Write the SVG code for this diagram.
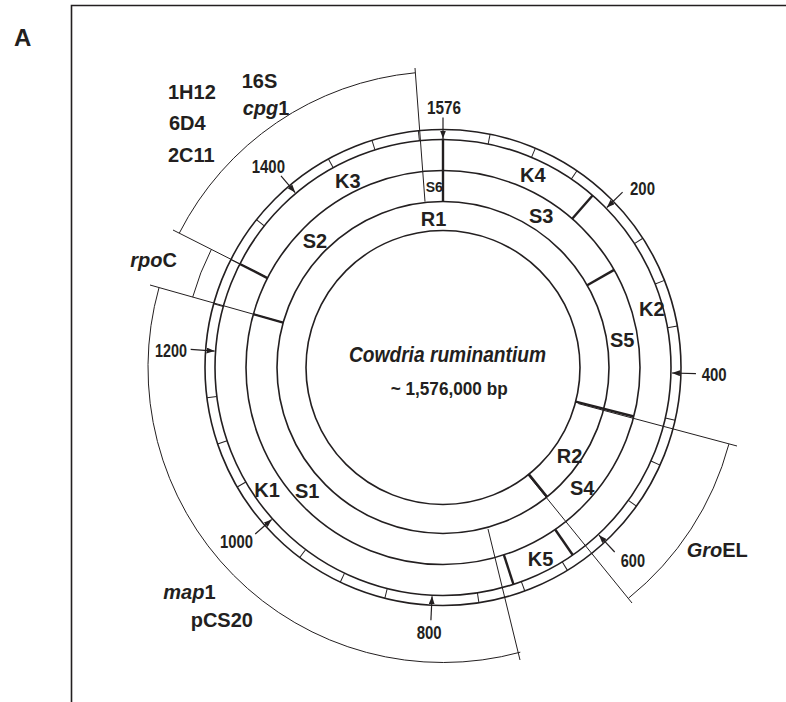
<svg xmlns="http://www.w3.org/2000/svg" width="786" height="702" viewBox="0 0 786 702">
<style>
text{font-family:"Liberation Sans",Arial,sans-serif;font-weight:bold;fill:#231f20}
.lbl{font-size:20px}
.num{font-size:18px}
.it{font-style:italic}
.ring{fill:none;stroke:#231f20;stroke-width:1.6}
.tick{stroke:#231f20;stroke-width:1}
.thin{stroke:#231f20;stroke-width:1;fill:none}
.thick{stroke:#231f20;stroke-width:2.4}
.lead{stroke:#231f20;stroke-width:1.2}
</style>
<defs>
<marker id="ah" markerUnits="userSpaceOnUse" markerWidth="8" markerHeight="6" refX="8" refY="3" orient="auto">
<path d="M0,0 L8,3 L0,6 z" fill="#231f20"/>
</marker>
</defs>
<rect width="786" height="702" fill="#fff"/>
<g id="frame"><path d="M71.5,702 V5.5 H786" fill="none" stroke="#231f20" stroke-width="1.6"/></g>
<text x="14" y="46" style="font-size:24px">A</text>

<g id="map" transform="translate(443 367.5)">
<g id="rings">
<circle class="ring" r="238"/>
<circle class="ring" r="228"/>
<circle class="ring" r="197"/>
<circle class="ring" r="166"/>
<circle class="ring" r="137"/>
</g>
<g id="ticks">
<line class="tick" y1="-228" y2="-238" transform="rotate(11.42)"/>
<line class="tick" y1="-228" y2="-238" transform="rotate(22.84)"/>
<line class="tick" y1="-228" y2="-238" transform="rotate(34.26)"/>
<line class="tick" y1="-228" y2="-238" transform="rotate(57.11)"/>
<line class="tick" y1="-228" y2="-238" transform="rotate(68.53)"/>
<line class="tick" y1="-228" y2="-238" transform="rotate(79.95)"/>
<line class="tick" y1="-228" y2="-238" transform="rotate(102.79)"/>
<line class="tick" y1="-228" y2="-238" transform="rotate(114.21)"/>
<line class="tick" y1="-228" y2="-238" transform="rotate(125.63)"/>
<line class="tick" y1="-228" y2="-238" transform="rotate(148.48)"/>
<line class="tick" y1="-228" y2="-238" transform="rotate(159.90)"/>
<line class="tick" y1="-228" y2="-238" transform="rotate(171.32)"/>
<line class="tick" y1="-228" y2="-238" transform="rotate(194.16)"/>
<line class="tick" y1="-228" y2="-238" transform="rotate(205.58)"/>
<line class="tick" y1="-228" y2="-238" transform="rotate(217.01)"/>
<line class="tick" y1="-228" y2="-238" transform="rotate(239.85)"/>
<line class="tick" y1="-228" y2="-238" transform="rotate(251.27)"/>
<line class="tick" y1="-228" y2="-238" transform="rotate(262.69)"/>
<line class="tick" y1="-228" y2="-238" transform="rotate(285.53)"/>
<line class="tick" y1="-228" y2="-238" transform="rotate(296.95)"/>
<line class="tick" y1="-228" y2="-238" transform="rotate(308.38)"/>
<line class="tick" y1="-228" y2="-238" transform="rotate(331.22)"/>
<line class="tick" y1="-228" y2="-238" transform="rotate(342.64)"/>
<line class="tick" y1="-228" y2="-238" transform="rotate(354.06)"/>
</g>
<g id="scale-arrows">
<line class="lead" y1="-250" y2="-229" marker-end="url(#ah)"/>
<line class="lead" y1="-251" y2="-229" marker-end="url(#ah)" transform="rotate(45.69)"/>
<line class="lead" y1="-253" y2="-229" marker-end="url(#ah)" transform="rotate(91.37)"/>
<line class="lead" y1="-252" y2="-229" marker-end="url(#ah)" transform="rotate(137.06)"/>
<line class="lead" y1="-253" y2="-229" marker-end="url(#ah)" transform="rotate(182.74)"/>
<line class="lead" y1="-251" y2="-229" marker-end="url(#ah)" transform="rotate(228.43)"/>
<line class="lead" y1="-253" y2="-229" marker-end="url(#ah)" transform="rotate(274.11)"/>
<line class="lead" y1="-251" y2="-229" marker-end="url(#ah)" transform="rotate(319.80)"/>
</g>
<g id="segment-boundaries">
<line class="thick" y1="-166" y2="-229"/>
<line class="thick" y1="-197" y2="-228" transform="rotate(41)"/>
<line class="thick" y1="-166" y2="-197" transform="rotate(60.3)"/>
<line class="thick" y1="-137" y2="-197" transform="rotate(104.4)"/>
<line class="thick" y1="-137" y2="-166" transform="rotate(141.2)"/>
<line class="thick" y1="-197" y2="-228" transform="rotate(145.3)"/>
<line class="thick" y1="-197" y2="-228" transform="rotate(162)"/>
<line class="thick" y1="-166" y2="-197" transform="rotate(285.7)"/>
<line class="thick" y1="-197" y2="-228" transform="rotate(297)"/>
</g>
</g>

<g id="brackets">
<g id="br-16S">
<line class="thin" x1="425" y1="201.7" x2="415" y2="68"/>
<line class="thin" x1="266" y1="277" x2="173" y2="230"/>
<path class="thin" d="M179.3,233.1 A296,296 0 0 1 415.1,72.8"/>
</g>
<g id="br-rpoC">
<line class="thin" x1="280" y1="321.7" x2="150" y2="285"/>
<path class="thin" d="M192.7,297.1 A260,260 0 0 1 211.3,249.5"/>
</g>
<g id="br-map1">
<line class="thin" x1="488" y1="529" x2="520" y2="660"/>
<path class="thin" d="M520.3,652.2 A295,295 0 0 1 159.0,287.7"/>
</g>
<g id="br-GroEL">
<line class="thin" x1="578.3" y1="403.6" x2="737" y2="446"/>
<line class="thin" x1="528" y1="475" x2="632" y2="603"/>
<path class="thin" d="M728.9,444.1 A296,296 0 0 1 628.5,598.2"/>
</g>
</g>

<g id="scale-labels" class="num">
<text class="num" x="427" y="114" textLength="34" lengthAdjust="spacingAndGlyphs">1576</text>
<text class="num" x="630" y="195" textLength="25" lengthAdjust="spacingAndGlyphs">200</text>
<text class="num" x="701.7" y="380.7" textLength="25" lengthAdjust="spacingAndGlyphs">400</text>
<text class="num" x="620.7" y="567" textLength="24.3" lengthAdjust="spacingAndGlyphs">600</text>
<text class="num" x="416.7" y="639" textLength="25" lengthAdjust="spacingAndGlyphs">800</text>
<text class="num" x="220" y="548" textLength="33" lengthAdjust="spacingAndGlyphs">1000</text>
<text class="num" x="155" y="356.7" textLength="32" lengthAdjust="spacingAndGlyphs">1200</text>
<text class="num" x="251.7" y="173" textLength="33.3" lengthAdjust="spacingAndGlyphs">1400</text>
</g>

<g id="segment-labels">
<text class="lbl" x="335" y="188.3">K3</text>
<text class="lbl" x="520" y="181.7">K4</text>
<text x="425.7" y="191.7" style="font-size:14px">S6</text>
<text class="lbl" x="420.7" y="226">R1</text>
<text class="lbl" x="302.7" y="248">S2</text>
<text class="lbl" x="529" y="222.7">S3</text>
<text class="lbl" x="639" y="316">K2</text>
<text class="lbl" x="610" y="346.7">S5</text>
<text class="lbl" x="556.7" y="463.3">R2</text>
<text class="lbl" x="570" y="495">S4</text>
<text class="lbl" x="527.7" y="566">K5</text>
<text class="lbl" x="254.3" y="496.7">K1</text>
<text class="lbl" x="295" y="498.3">S1</text>
</g>

<g id="center-label">
<text class="it" x="349" y="361.7" style="font-size:22.5px" textLength="197" lengthAdjust="spacingAndGlyphs">Cowdria ruminantium</text>
<text x="390.7" y="395" style="font-size:18px" textLength="117" lengthAdjust="spacingAndGlyphs">~ 1,576,000 bp</text>
</g>

<g id="gene-labels">
<text class="lbl" x="241.7" y="88.3">16S</text>
<text class="lbl" x="242.7" y="115"><tspan class="it">cpg</tspan>1</text>
<text class="lbl" x="168" y="99">1H12</text>
<text class="lbl" x="169" y="130">6D4</text>
<text class="lbl" x="168" y="161.7">2C11</text>
<text class="lbl" x="177" y="266.7" text-anchor="end"><tspan class="it">rpo</tspan>C</text>
<text class="lbl" x="163.3" y="599"><tspan class="it">map</tspan>1</text>
<text class="lbl" x="190.7" y="627">pCS20</text>
<text class="lbl" x="686.7" y="557"><tspan class="it">Gro</tspan>EL</text>
</g>
</svg>
